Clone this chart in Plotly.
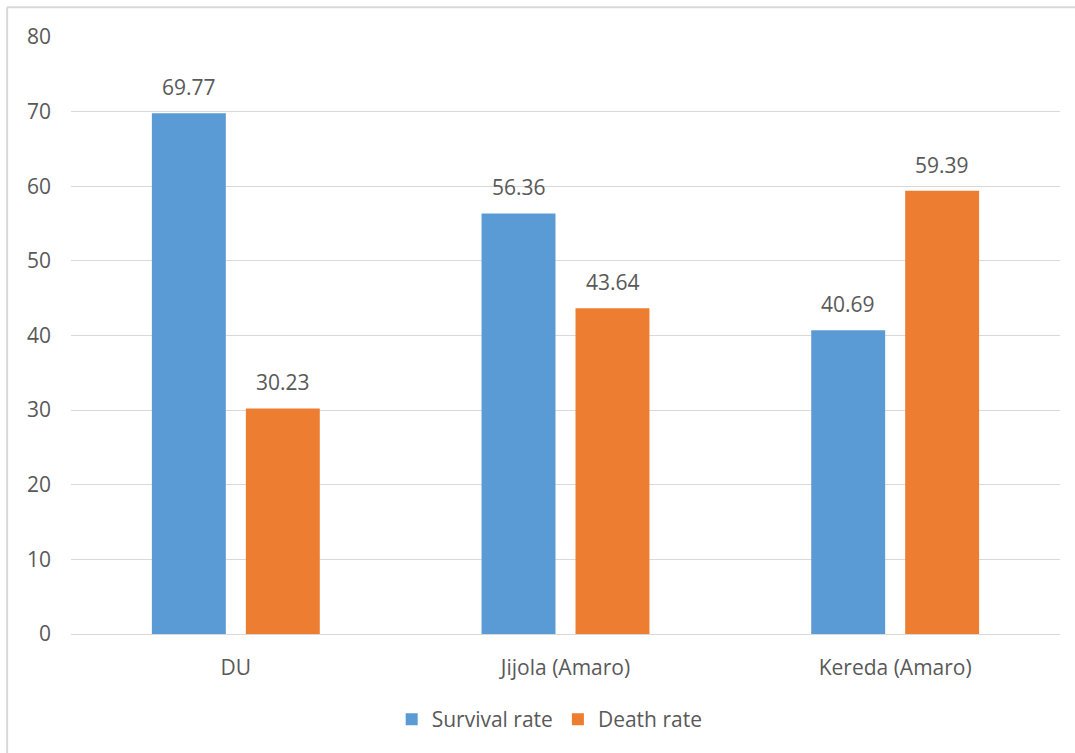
import plotly.graph_objects as go

categories = ["DU", "Jijola (Amaro)", "Kereda (Amaro)"]
survival = [69.77, 56.36, 40.69]
death = [30.23, 43.64, 59.39]
y_ticks = [0, 10, 20, 30, 40, 50, 60, 70, 80]
series_names = ["Survival rate", "Death rate"]
series_colors = ["#5B9BD5", "#ED7D31"]

font_fam = "Open Sans, Liberation Sans, sans-serif"
gray = "#595959"
fsize = 21

fig = go.Figure()
for name, vals, col in zip(series_names, [survival, death], series_colors):
    fig.add_trace(go.Bar(x=categories, y=vals, name=name, marker_color=col,
                         marker_line_width=0))

annotations = []
for shift, vals in zip([-47, 47], [survival, death]):
    for cat, v in zip(categories, vals):
        annotations.append(dict(x=cat, y=v, xref="x", yref="y", text=f"{v:.2f}",
                                showarrow=False, xshift=shift, yshift=26,
                                yanchor="middle", xanchor="center",
                                font=dict(size=fsize, color=gray, family=font_fam)))

fig.update_layout(
    width=1075, height=753,
    margin=dict(l=71, r=15, t=37, b=119),
    paper_bgcolor="white", plot_bgcolor="white",
    barmode="group", bargap=0.43, bargroupgap=0.213,
    font=dict(family=font_fam, color=gray, size=fsize),
    legend=dict(orientation="h", x=0.484, xanchor="center", y=-0.109, yanchor="top",
                font=dict(size=fsize, color=gray), itemwidth=30, traceorder="normal"),
    xaxis=dict(showgrid=False, showline=True, linecolor="#d9d9d9", linewidth=1,
               ticks="", tickfont=dict(size=fsize, color=gray)),
    yaxis=dict(range=[0, 80], tickvals=y_ticks, showgrid=True, gridcolor="#d9d9d9",
               zeroline=False, showline=False, ticks="", ticklen=0,
               tickfont=dict(size=fsize, color=gray)),
    annotations=annotations,
    shapes=[
        dict(type="line", xref="paper", yref="paper", x0=-0.0646, x1=-0.0646, y0=1.05, y1=-0.21,
             line=dict(color="#d9d9d9", width=2)),
        dict(type="line", xref="paper", yref="paper", x0=-0.0646, x1=1.02, y0=1.05, y1=1.05,
             line=dict(color="#d9d9d9", width=2)),
    ],
)
fig.update_yaxes(ticklabelstandoff=19)
fig.update_xaxes(ticklabelstandoff=15)

fig.write_html("out.html")
